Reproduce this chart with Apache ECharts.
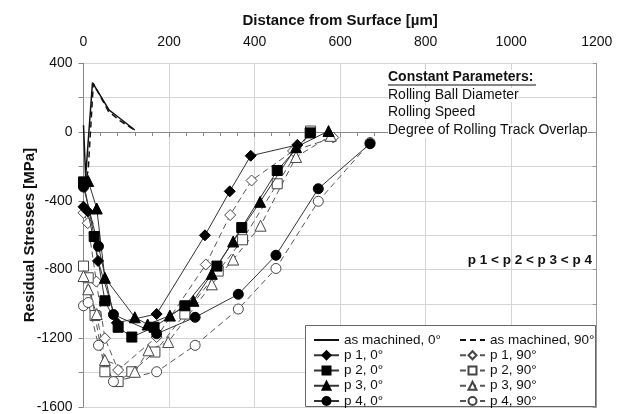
<!DOCTYPE html>
<html><head><meta charset="utf-8">
<script src="https://cdn.jsdelivr.net/npm/echarts@6/dist/echarts.min.js"></script>
<style>html,body{margin:0;padding:0;background:#fff}#c{width:626px;height:414px}</style>
</head><body><div id="c"></div>
<script>
// Distance from surface [µm], residual stress [MPa]
const asMachined0  = [[0,40],[5,-260],[21,288],[60,128],[72,105],[120,12]];
const asMachined90 = [[3,-320],[11,-220],[23,282],[58,122],[85,66],[118,14]];
const p1_0  = [[0,-435],[10,-462],[34,-750],[78,-1110],[171,-1059],[284,-601],[342,-345],[391,-138],[500,-75]];
const p2_0  = [[0,-290],[25,-608],[50,-982],[81,-1136],[113,-1193],[165,-1136],[237,-1011],[312,-780],[370,-556],[453,-224],[530,-5]];
const p3_0  = [[11,-285],[31,-445],[50,-848],[120,-1078],[150,-1120],[202,-1068],[257,-982],[300,-825],[350,-637],[413,-406],[497,-88],[573,6]];
const p4_0  = [[0,-320],[35,-665],[70,-1062],[171,-1174],[261,-1078],[362,-944],[450,-717],[549,-330],[670,-68]];
const p1_90 = [[0,-470],[10,-530],[30,-870],[50,-1200],[81,-1385],[171,-1193],[286,-771],[343,-483],[393,-282],[490,-110],[584,-32]];
const p2_90 = [[0,-780],[11,-848],[27,-1068],[50,-1395],[81,-1452],[113,-1395],[167,-1280],[237,-1059],[315,-809],[372,-627],[453,-301],[531,6]];
const p3_90 = [[0,-838],[11,-915],[31,-1059],[50,-1327],[120,-1395],[152,-1270],[198,-1222],[300,-886],[350,-742],[414,-545],[497,-145],[578,-22]];
const p4_90 = [[0,-1011],[11,-992],[35,-1241],[70,-1452],[171,-1395],[261,-1241],[362,-1030],[450,-794],[549,-403],[670,-61]];

const legendLeft  = ['as machined, 0°','p 1, 0°','p 2, 0°','p 3, 0°','p 4, 0°'];
const legendRight = ['as machined, 90°','p 1, 90°','p 2, 90°','p 3, 90°','p 4, 90°'];

const FONT = 'Liberation Sans, Arial, sans-serif';

function marked(name, data, symbol, filled, size) {
  return {
    name, type: 'line', data, symbol, symbolSize: size,
    lineStyle: filled ? {color:'#333', width:1, type:'solid'} : {color:'#555', width:1, type:[6,4]},
    itemStyle: filled ? {color:'#000', borderColor:'#000', borderWidth:1}
                      : {color:'#fff', borderColor:'#444', borderWidth:1},
    emphasis: {disabled: true}, z: filled ? 3 : 2
  };
}

const series = [
  {name: legendLeft[0], type:'line', data: asMachined0, symbol:'none', lineStyle:{color:'#111', width:1.5, type:'solid'}, itemStyle:{color:'#111'}, emphasis:{disabled:true}},
  {name: legendRight[0], type:'line', data: asMachined90, symbol:'none', lineStyle:{color:'#111', width:1.5, type:[6,4]}, itemStyle:{color:'#111'}, emphasis:{disabled:true}},
  marked(legendRight[1], p1_90, 'diamond', false, 11),
  marked(legendRight[2], p2_90, 'rect', false, 10),
  marked(legendRight[3], p3_90, 'triangle', false, 11),
  marked(legendRight[4], p4_90, 'circle', false, 10),
  marked(legendLeft[1], p1_0, 'diamond', true, 11),
  marked(legendLeft[2], p2_0, 'rect', true, 10),
  marked(legendLeft[3], p3_0, 'triangle', true, 11),
  marked(legendLeft[4], p4_0, 'circle', true, 10)
];

const legendCommon = {
  orient: 'vertical', itemHeight: 10, itemGap: 0.25, itemWidth: 25, z: 10,
  selectedMode: false,
  textStyle: {fontFamily: FONT, fontSize: 13.5, color: '#111', lineHeight: 15, padding: 0}
};
function legendItems(names) {
  return names.map((n, i) => i === 0 ? {name: n, itemStyle: {opacity: 0}} : {name: n});
}

const chart = echarts.init(document.getElementById('c'), null, {renderer: 'canvas'});
chart.setOption({
  animation: false,
  backgroundColor: '#fff',
  grid: {left: 83.5, right: 29.3, top: 63.3, bottom: 3.3, containLabel: false},
  xAxis: {
    type: 'value', position: 'top', min: 0, max: 1200, interval: 200,
    name: 'Distance from Surface [µm]', nameLocation: 'middle', nameGap: 35, nameMoveOverlap: false,
    nameTextStyle: {fontFamily: FONT, fontSize: 15, fontWeight: 'bold', color: '#111'},
    axisLine: {show: true, lineStyle: {color: '#888'}},
    axisTick: {show: true, inside: true, length: 5, lineStyle: {color: '#888'}},
    minorTick: {show: true, splitNumber: 5, length: 4, lineStyle: {color: '#888'}},
    axisLabel: {fontFamily: FONT, fontSize: 14, color: '#111', margin: 14, formatter: v => String(v)},
    splitLine: {show: true, lineStyle: {color: '#d4d4d4', width: 1}}
  },
  yAxis: [{
    type: 'value', min: -1600, max: 400, interval: 200,
    name: 'Residual Stresses [MPa]', nameLocation: 'middle', nameGap: 46, nameMoveOverlap: false,
    nameTextStyle: {fontFamily: FONT, fontSize: 15, fontWeight: 'bold', color: '#111'},
    axisLine: {show: true, onZero: false, lineStyle: {color: '#888'}},
    axisTick: {show: true, length: 5, lineStyle: {color: '#888'}},
    axisLabel: {fontFamily: FONT, fontSize: 14, color: '#111', margin: 11,
      formatter: v => (v % 400 === 0 ? String(v) : '')},
    splitLine: {show: true, lineStyle: {color: '#d4d4d4', width: 1}}
  }, {
    type: 'value', position: 'right', min: -1600, max: 400, interval: 200,
    axisLine: {show: true, onZero: false, lineStyle: {color: '#999'}},
    axisTick: {show: true, inside: true, length: 4, lineStyle: {color: '#999'}},
    axisLabel: {show: false}, splitLine: {show: false}
  }],
  legend: [
    Object.assign({}, legendCommon, {data: legendItems(legendLeft), left: 308, top: 327.5}),
    Object.assign({}, legendCommon, {data: legendItems(legendRight), left: 454, top: 327.5})
  ],
  graphic: [
    {type: 'rect', z: 5, shape: {x: 305.5, y: 325.5, width: 290, height: 81}, style: {fill: '#fff', stroke: '#666', lineWidth: 1}},
    {type: 'text', z: 5, x: 388, y: 77, style: {text: 'Constant Parameters:', font: 'bold 14px ' + FONT, fill: '#111', verticalAlign: 'middle', backgroundColor: '#fff'}},
    {type: 'line', z: 6, shape: {x1: 388, y1: 85, x2: 536, y2: 85}, style: {stroke: '#111', lineWidth: 1.2}},
    {type: 'text', z: 5, x: 388, y: 95, style: {text: 'Rolling Ball Diameter', font: '14px ' + FONT, fill: '#111', verticalAlign: 'middle', backgroundColor: '#fff'}},
    {type: 'text', z: 5, x: 388, y: 112.5, style: {text: 'Rolling Speed', font: '14px ' + FONT, fill: '#111', verticalAlign: 'middle', backgroundColor: '#fff'}},
    {type: 'text', z: 5, x: 388, y: 130.5, style: {text: 'Degree of Rolling Track Overlap', font: '14px ' + FONT, fill: '#111', verticalAlign: 'middle', backgroundColor: '#fff'}},
    {type: 'text', z: 5, x: 592, y: 260, style: {text: 'p 1 < p 2 < p 3 < p 4', font: 'bold 13.5px ' + FONT, fill: '#111', align: 'right', verticalAlign: 'middle'}}
  ],
  series
});
</script></body></html>
